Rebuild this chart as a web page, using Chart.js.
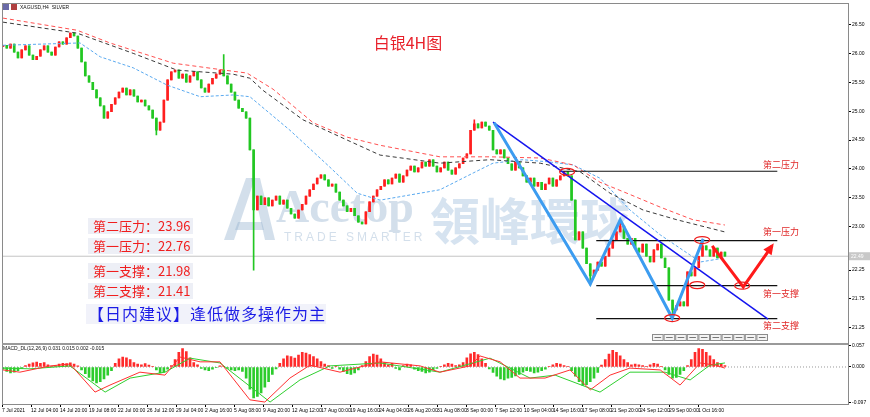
<!DOCTYPE html>
<html>
<head>
<meta charset="utf-8">
<script src="https://cdn.jsdelivr.net/npm/chart.js@4.4.1/dist/chart.umd.min.js"></script>
<style>
  html, body { margin: 0; padding: 0; background: #fff; }
  #wrap { width: 870px; height: 417px; }
</style>
</head>
<body>
<div id="wrap"><canvas id="c" width="870" height="417"></canvas></div>
<script>
// XAGUSD H4 closes, one candle per 8 hours
var closes = [
  26.14,26.09,26.16,26.02,25.92,26.06,26.13,25.97,25.89,25.95,
  26.06,26.13,26.02,25.97,26.11,26.20,26.16,26.27,26.35,26.30,
  26.09,25.85,25.61,25.50,25.37,25.23,25.09,24.88,24.99,25.12,
  25.23,25.33,25.40,25.28,25.37,25.26,25.16,25.19,25.09,25.02,
  24.88,24.67,24.81,25.19,25.54,25.68,25.71,25.57,25.64,25.50,
  25.61,25.68,25.54,25.40,25.33,25.47,25.57,25.64,25.71,25.61,
  25.47,25.33,25.19,25.05,24.99,24.88,24.33,23.29,23.53,23.38,
  23.50,23.36,23.46,23.53,23.39,23.46,23.32,23.22,23.15,23.29,
  23.39,23.53,23.64,23.74,23.84,23.90,23.81,23.70,23.74,23.60,
  23.46,23.36,23.26,23.32,23.19,23.08,23.05,23.26,23.43,23.53,
  23.64,23.70,23.81,23.74,23.84,23.91,23.77,23.88,23.98,24.05,
  23.95,24.02,24.12,24.05,24.16,24.05,23.95,24.02,24.12,23.98,
  23.91,24.02,24.09,24.19,24.26,24.67,24.78,24.71,24.81,24.74,
  24.67,24.33,24.26,24.33,24.19,24.09,23.98,24.12,24.02,23.88,
  23.77,23.84,23.70,23.77,23.64,23.74,23.84,23.70,23.81,23.88,
  23.95,23.88,23.46,22.77,22.91,22.63,22.36,22.15,22.25,22.39,
  22.32,22.49,22.63,22.77,22.91,23.01,22.80,22.70,22.80,22.63,
  22.56,22.70,22.49,22.39,22.60,22.70,22.46,22.29,21.73,21.56,
  21.63,21.70,21.63,22.22,22.15,22.29,22.49,22.67,22.60,22.49,
  22.63,22.46,22.56,22.49
];
var firstOpen = 26.12;
var lastPrice = 22.49;

// long wicks that stand out
var spikeBars = [41, 59, 67, 126, 157, 165, 179, 187];
var spikeHigh = [null, 25.98, null, 24.85, null, 23.07, null, 22.78];
var spikeLow  = [24.59, null, 22.25, null, 21.99, null, 21.42, null];

// moving averages (bar position, price)
var maRedX = [0, 19.8, 28.6, 45.5, 61.5, 65.2, 72.2, 82.9, 92, 100.8, 116.8, 130.2, 143.6, 152.4, 159.6, 166.8, 175.7, 184.5, 193];
var maRedY = [26.61, 26.40, 26.18, 25.83, 25.69, 25.66, 25.38, 24.80, 24.55, 24.41, 24.21, 24.21, 24.19, 24.07, 23.77, 23.58, 23.34, 23.12, 23.03];
var maBlackX = [0, 19.8, 34.8, 46.5, 61.5, 66, 69.5, 80.2, 92, 100.8, 116.8, 130.2, 143.6, 154.3, 162.3, 171.1, 180.2, 193];
var maBlackY = [26.54, 26.35, 26.00, 25.71, 25.64, 25.57, 25.36, 24.85, 24.50, 24.24, 24.10, 24.16, 24.10, 23.95, 23.58, 23.29, 23.12, 22.91];
var maBlueX = [0, 20.6, 26, 34.8, 43.9, 52.7, 61.5, 66, 76.7, 87.4, 94.7, 100.8, 116.8, 125.7, 131, 139, 146.3, 152.4, 159.6, 167.6, 175.7, 183.7, 186.4, 193];
var maBlueY = [26.14, 26.18, 25.94, 25.75, 25.45, 25.25, 25.28, 25.25, 24.67, 24.03, 23.58, 23.46, 23.64, 23.93, 24.10, 24.16, 24.12, 24.07, 23.84, 23.29, 22.86, 22.51, 22.39, 22.46];

// MACD pane
var macdHist = [
  -0.006,-0.012,-0.016,-0.014,-0.010,-0.004,
  0.004,0.008,0.011,0.013,0.010,0.012,0.006,0.002,
  0.004,0.008,0.010,0.009,0.011,0.008,0.003,
  -0.008,-0.018,-0.028,-0.038,-0.043,-0.040,-0.032,-0.022,-0.010,
  0.010,0.022,0.027,0.025,0.020,
  0.012,0.008,0.006,0.009,0.005,0.002,
  -0.008,-0.016,-0.014,-0.006,0.004,
  0.020,0.040,0.050,0.042,0.025,0.012,0.006,
  -0.004,-0.008,-0.010,-0.006,-0.002,0.003,0.002,-0.004,-0.008,-0.010,-0.008,-0.012,
  -0.030,-0.060,-0.084,-0.080,-0.070,-0.055,-0.040,-0.020,
  -0.005,0.010,0.022,0.030,0.028,0.024,
  0.032,0.040,0.038,0.034,0.028,0.022,0.015,0.008,
  0.004,-0.004,0.002,-0.006,
  -0.012,-0.018,-0.020,-0.016,-0.008,0.004,
  0.015,0.028,0.035,0.032,0.022,0.012,
  0.006,0.010,-0.004,-0.008,0.004,0.008,0.006,-0.006,-0.010,
  -0.012,-0.016,-0.014,-0.008,-0.004,0.002,
  0.006,0.010,0.008,0.004,0.006,0.012,
  0.025,0.036,0.040,0.034,0.022,0.010,
  -0.005,-0.015,-0.025,-0.032,-0.035,-0.030,-0.028,-0.024,-0.020,-0.014,-0.010,
  -0.012,-0.016,-0.014,-0.010,-0.006,0.002,
  0.006,0.010,0.008,0.004,0.002,-0.010,
  -0.025,-0.040,-0.050,-0.048,-0.040,-0.030,-0.015,
  0.005,0.020,0.035,0.045,0.040,0.030,0.020,0.012,0.006,
  0.008,0.006,0.004,0.002,
  0.006,0.010,0.008,0.002,-0.008,
  -0.020,-0.030,-0.028,-0.020,-0.010,0.004,
  0.020,0.040,0.050,0.048,0.040,0.030,0.020,0.012,
  0.008,0.004
];
var macdX = [0,4.5,12.6,17.9,24.6,28.6,36.6,43.3,47.3,52.7,58,66,70,76.7,82.1,90.1,100.8,111.5,116.8,124.9,127.5,132.9,138.2,144.9,151.6,157,162.3,167.6,175.7,181,186.4,190.4,193];
var macdY = [-0.008,-0.014,0.003,0.008,-0.068,-0.049,-0.014,-0.022,0.027,0.014,0.014,-0.089,-0.095,-0.030,0.005,-0.014,0.014,0.003,-0.014,0.003,0.030,0.014,-0.030,-0.030,-0.008,-0.062,-0.022,-0.003,-0.008,-0.049,0.011,0.005,-0.003];
var signalX = [0,7.2,17.9,27.3,34,43.3,50,58,71.4,79.4,87.4,100.8,116.8,130.2,140.9,147.6,159.6,167.6,177,183.7,189,193];
var signalY = [-0.003,-0.005,0.003,-0.068,-0.030,-0.014,0.024,0.011,-0.095,-0.035,0.003,0.011,-0.014,0.024,-0.030,-0.022,-0.068,-0.014,-0.014,-0.035,0.005,0.011];

// support / resistance levels
var levelNames = ['第二压力', '第一压力', '第一支撑', '第二支撑'];
var levelValues = [23.96, 22.76, 21.98, 21.41];
var levelStart = [148.9, 158.6, 158.6, 158.6];
var levelEnd = 207;

// hand drawn lines
var trendX = [131.0, 204.5];
var trendY = [24.81, 21.40];
var zigX = [131.3, 157, 165, 178.9, 187.2];
var zigY = [24.80, 22.01, 23.12, 21.42, 22.79];
var arrowX = [189.6, 197.9, 205.6];
var arrowY = [22.67, 21.96, 22.67];
var ringX = [150.8, 186.9, 185.6, 178.9, 197.6];
var ringY = [23.95, 22.77, 21.99, 21.42, 21.98];

// axes
var dateLabels = ['7 Jul 2021', '12 Jul 04:00', '14 Jul 20:00', '19 Jul 08:00', '22 Jul 00:00', '26 Jul 12:00',
  '29 Jul 04:00', '2 Aug 16:00', '5 Aug 08:00', '9 Aug 20:00', '12 Aug 12:00', '17 Aug 00:00', '19 Aug 16:00',
  '24 Aug 04:00', '26 Aug 20:00', '31 Aug 08:00', '3 Sep 00:00', '7 Sep 12:00', '10 Sep 04:00', '14 Sep 16:00',
  '17 Sep 08:00', '21 Sep 20:00', '24 Sep 12:00', '29 Sep 00:00', '1 Oct 16:00'];
var priceTicks = [21.25, 21.5, 21.75, 22.0, 22.25, 22.75, 23.0, 23.25, 23.5, 23.75, 24.0, 24.25, 24.5, 24.75,
  25.0, 25.25, 25.5, 25.75, 26.0, 26.25, 26.5, 26.75];
var macdTicks = [-0.097, 0, 0.057];

var titleText = '白银4H图';
var adviceText = '【日内建议】逢低做多操作为主';
var symbolText = 'XAGUSD,H4  SILVER';
var macdText = 'MACD_DL(12,26,9) 0.031 0.015 0.002 -0.015';

var UP = '#ff1f1f', DOWN = '#22c722';
var CJK = '"Noto Sans CJK SC", sans-serif';

var bodies = [], wicks = [], bodyCol = [];
closes.forEach(function (c, i) {
  var o = i === 0 ? firstOpen : closes[i - 1];
  var hi = Math.max(o, c), lo = Math.min(o, c);
  var k = spikeBars.indexOf(i);
  if (k >= 0) {
    if (spikeHigh[k] !== null) hi = spikeHigh[k];
    if (spikeLow[k] !== null) lo = spikeLow[k];
  }
  bodies.push({ x: i, y: [o, c] });
  wicks.push({ x: i, y: [lo, hi] });
  bodyCol.push(c >= o ? UP : DOWN);
});

function pts(xs, ys) { return xs.map(function (x, i) { return { x: x, y: ys[i] }; }); }
function line(data, color, width, dash, axis, order) {
  return { type: 'line', data: data, borderColor: color, borderWidth: width, borderDash: dash || [],
    pointRadius: 0, tension: 0, fill: false, yAxisID: axis || 'y', order: order };
}

var xMin = -0.27, xMax = 225.9;
var datasets = [
  { type: 'bar', data: wicks, backgroundColor: bodyCol, barThickness: 1, grouped: false, yAxisID: 'y', order: 10 },
  { type: 'bar', data: bodies, backgroundColor: bodyCol, barThickness: 2, minBarLength: 1, grouped: false, yAxisID: 'y', order: 9 },
  line([{ x: xMin, y: lastPrice }, { x: xMax, y: lastPrice }], '#c4c4c4', 1, null, 'y', 11),
  line(pts(maRedX, maRedY), '#ff5050', 1, [4, 3], 'y', 7),
  line(pts(maBlackX, maBlackY), '#3a3a3a', 1, [4, 3], 'y', 7),
  line(pts(maBlueX, maBlueY), '#5aaaf0', 1, [3, 2], 'y', 7),
  { type: 'bar', data: macdHist.map(function (v, i) { return { x: i, y: v }; }),
    backgroundColor: macdHist.map(function (v) { return v >= 0 ? '#ff2a2a' : '#2ccc2c'; }),
    barThickness: 2, grouped: false, yAxisID: 'y2', order: 10 },
  line([{ x: xMin, y: 0 }, { x: xMax, y: 0 }], '#999', 1, [1, 2], 'y2', 11),
  line(pts(macdX, macdY), '#ff3030', 1, null, 'y2', 6),
  line(pts(signalX, signalY), '#2fcf2f', 1, null, 'y2', 6),
  line(pts(trendX, trendY), '#1515ee', 1.5, null, 'y', 3),
  line(pts(zigX, zigY), '#3c9cf0', 3, null, 'y', 2),
  line(pts(arrowX, arrowY), '#ff1a1a', 3, null, 'y', 2)
];
levelValues.forEach(function (v, i) {
  datasets.push(line([{ x: levelStart[i], y: v }, { x: levelEnd, y: v }], '#111', 1.2, null, 'y', 4));
});

var deco = {
  id: 'deco',
  beforeDraw: function (chart) {
    var c = chart.ctx;
    c.save();
    c.fillStyle = '#fff';
    c.fillRect(0, 0, chart.width, chart.height);
    c.restore();
  },
  beforeDatasetsDraw: function (chart) {
    var c = chart.ctx;
    c.save();
    // watermark
    c.fillStyle = 'rgba(150,178,208,0.42)';
    c.beginPath(); c.moveTo(224, 240); c.lineTo(246, 178); c.lineTo(255, 178); c.lineTo(234, 240); c.closePath(); c.fill();
    c.beginPath(); c.moveTo(251, 178); c.lineTo(260, 178); c.lineTo(275, 240); c.lineTo(265, 240); c.closePath(); c.fill();
    c.beginPath(); c.moveTo(238, 222); c.lineTo(262, 222); c.lineTo(264, 230); c.lineTo(235, 230); c.closePath(); c.fill();
    c.font = 'bold 46px "Liberation Serif", serif';
    c.textBaseline = 'alphabetic';
    c.fillText('Acetop', 276, 222);
    c.font = '12px "Liberation Sans", sans-serif';
    c.letterSpacing = '3px';
    c.fillText('TRADE SMARTER', 284, 241);
    c.letterSpacing = '0px';
    c.font = 'bold 50px "Noto Sans CJK TC", sans-serif';
    c.fillStyle = 'rgba(165,192,222,0.45)';
    c.fillText('領峰環球', 430, 240);
    c.restore();
  },
  afterDatasetsDraw: function (chart) {
    var c = chart.ctx, xs = chart.scales.x, ys = chart.scales.y;
    c.save();
    // rings
    c.strokeStyle = '#ee1c1c';
    c.lineWidth = 1.2;
    ringX.forEach(function (x, i) {
      c.beginPath();
      c.ellipse(xs.getPixelForValue(x), ys.getPixelForValue(ringY[i]), 7.5, 3.5, 0, 0, Math.PI * 2);
      c.stroke();
    });
    // arrow head
    var n = arrowX.length;
    var ax = xs.getPixelForValue(arrowX[n - 1]), ay = ys.getPixelForValue(arrowY[n - 1]);
    var bx = xs.getPixelForValue(arrowX[n - 2]), by = ys.getPixelForValue(arrowY[n - 2]);
    var ang = Math.atan2(ay - by, ax - bx);
    c.fillStyle = '#ff1a1a';
    c.beginPath();
    c.moveTo(ax + Math.cos(ang) * 3, ay + Math.sin(ang) * 3);
    c.lineTo(ax - Math.cos(ang) * 8 + Math.cos(ang + Math.PI / 2) * 5, ay - Math.sin(ang) * 8 + Math.sin(ang + Math.PI / 2) * 5);
    c.lineTo(ax - Math.cos(ang) * 8 - Math.cos(ang + Math.PI / 2) * 5, ay - Math.sin(ang) * 8 - Math.sin(ang + Math.PI / 2) * 5);
    c.closePath();
    c.fill();

    // level names on the right
    c.font = '9px ' + CJK;
    c.fillStyle = '#e02828';
    c.textBaseline = 'middle';
    c.textAlign = 'left';
    var off = [-7, -9, 8, 7];
    levelNames.forEach(function (nm, i) {
      c.fillText(nm, 763, ys.getPixelForValue(levelValues[i]) + off[i]);
    });

    // title
    c.font = '16px ' + CJK;
    c.fillStyle = '#e8202a';
    c.textAlign = 'center';
    c.fillText(titleText, 408, 43);

    // left text block
    c.textAlign = 'left';
    c.font = '13px ' + CJK;
    var noteY = [226, 246, 271, 291];
    levelNames.forEach(function (nm, i) {
      c.fillStyle = 'rgba(236,238,246,0.95)';
      c.fillRect(88, noteY[i] - 8, 105, 16);
      c.fillStyle = '#f01e1e';
      c.fillText(nm + '：' + levelValues[i].toFixed(2), 93, noteY[i]);
    });
    c.fillStyle = 'rgba(240,241,250,0.95)';
    c.fillRect(86, 304, 240, 20);
    c.font = '16px ' + CJK;
    c.letterSpacing = '1px';
    c.fillStyle = '#1c1ce6';
    c.fillText(adviceText, 88, 314);
    c.letterSpacing = '0px';

    // symbol caption
    c.fillStyle = '#6a6aa8';
    c.fillRect(3, 4, 6, 6);
    c.fillStyle = '#b04040';
    c.fillRect(11, 4, 6, 6);
    c.font = '5px "Liberation Sans", sans-serif';
    c.fillStyle = '#111';
    c.fillText(symbolText, 20, 7.5);
    c.fillText(macdText, 3, 349);

    // little toolbar boxes
    c.strokeStyle = '#8c8c8c';
    c.lineWidth = 1;
    for (var b = 0; b < 10; b++) {
      c.fillStyle = '#f4f4f4';
      c.fillRect(652.5 + b * 11.6, 334.5, 10.6, 6);
      c.strokeRect(652.5 + b * 11.6, 334.5, 10.6, 6);
      c.fillStyle = '#777';
      c.fillRect(654.5 + b * 11.6, 337, 6.6, 1);
    }

    // frame and pane separator
    var ca = chart.chartArea;
    c.strokeStyle = '#8a8a8a';
    c.strokeRect(ca.left + 0.5, ca.top - 0.5, ca.right - ca.left, ca.bottom - ca.top + 1);
    c.fillStyle = '#9a9a9a';
    c.fillRect(ca.left, 343, ca.right - ca.left, 2);

    // current price tag
    var py = ys.getPixelForValue(lastPrice);
    c.fillStyle = '#c8c8c8';
    c.fillRect(849, py - 4, 21, 8);
    c.fillStyle = '#fff';
    c.font = '5px "Liberation Sans", sans-serif';
    c.fillText(lastPrice.toFixed(2), 851, py + 0.5);
    c.restore();
  }
};

var tickFont = { family: 'Liberation Sans', size: 5 };
new Chart(document.getElementById('c'), {
  type: 'bar',
  data: { datasets: datasets },
  options: {
    responsive: false,
    animation: false,
    events: [],
    layout: { padding: { left: 2, top: 4, right: 0, bottom: 0 } },
    plugins: { legend: { display: false }, tooltip: { enabled: false } },
    scales: {
      x: {
        type: 'linear', position: 'bottom', min: xMin, max: xMax, offset: false,
        grid: { drawOnChartArea: false, offset: false, tickLength: 3, color: '#000' },
        border: { color: '#000' },
        afterBuildTicks: function (s) {
          s.ticks = dateLabels.map(function (l, k) { return { value: xMin + k * 7.754 }; });
        },
        afterFit: function (s) { s.height = 13; },
        ticks: { font: tickFont, color: '#000', align: 'start', padding: 1, maxRotation: 0, autoSkip: false,
          callback: function (v, i) { return dateLabels[i]; } }
      },
      y: {
        type: 'linear', position: 'right', stack: 'pane', stackWeight: 339.5, min: 20.98, max: 26.854,
        grid: { drawOnChartArea: false, tickLength: 3, color: '#000' },
        border: { color: '#000' },
        afterBuildTicks: function (s) { s.ticks = priceTicks.map(function (v) { return { value: v }; }); },
        afterFit: function (s) { s.width = 22; },
        ticks: { font: tickFont, color: '#000', padding: 1, callback: function (v) { return v.toFixed(2); } }
      },
      y2: {
        type: 'linear', position: 'right', stack: 'pane', stackWeight: 60.5, min: -0.1003, max: 0.0637,
        grid: { drawOnChartArea: false, tickLength: 3, color: '#000' },
        border: { color: '#000' },
        afterBuildTicks: function (s) { s.ticks = macdTicks.map(function (v) { return { value: v }; }); },
        afterFit: function (s) { s.width = 22; },
        ticks: { font: tickFont, color: '#000', padding: 1, callback: function (v) { return v.toFixed(3); } }
      }
    }
  },
  plugins: [deco]
});
</script>
</body>
</html>
